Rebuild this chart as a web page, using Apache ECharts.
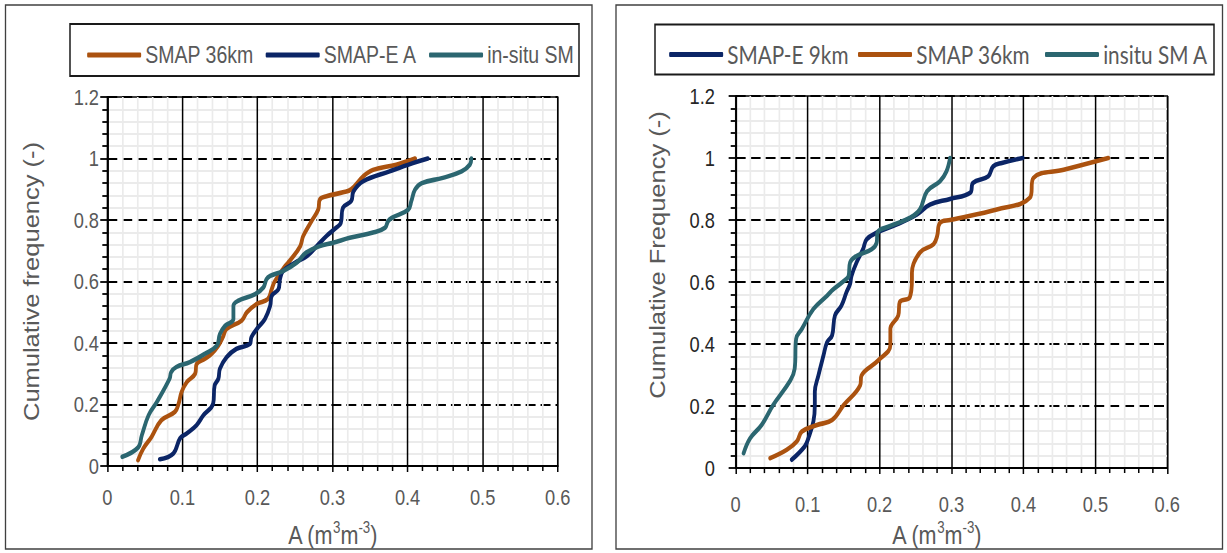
<!DOCTYPE html>
<html>
<head>
<meta charset="utf-8">
<script src="https://cdn.jsdelivr.net/npm/echarts@6.0.0/dist/echarts.min.js"></script>
<style>
  html, body { margin: 0; padding: 0; background: #fff; overflow: hidden; }
  #chart { height: 553px; transform-origin: 0 0; }
</style>
</head>
<body>
<div id="chart"></div>
<script>
// Tick labels
const xTickLabels = ['0', '0.1', '0.2', '0.3', '0.4', '0.5', '0.6'];
const yTickLabels = ['0', '0.2', '0.4', '0.6', '0.8', '1', '1.2'];

// Left panel: [A (m3/m3), cumulative frequency]
const leftSmap36 = [
  [0.041, 0.019], [0.048, 0.057], [0.059, 0.095], [0.072, 0.149], [0.090, 0.176],
  [0.095, 0.203], [0.099, 0.241], [0.106, 0.273], [0.117, 0.300], [0.119, 0.332],
  [0.130, 0.349], [0.139, 0.365], [0.148, 0.392], [0.154, 0.419], [0.159, 0.446],
  [0.179, 0.473], [0.186, 0.500], [0.199, 0.527], [0.214, 0.543], [0.219, 0.575],
  [0.223, 0.600], [0.237, 0.650], [0.243, 0.667], [0.257, 0.715], [0.261, 0.748],
  [0.272, 0.796], [0.281, 0.834], [0.283, 0.866], [0.292, 0.877], [0.314, 0.890],
  [0.325, 0.900], [0.341, 0.942], [0.354, 0.963], [0.385, 0.980], [0.410, 1.000]
];
const leftSmapE = [
  [0.070, 0.022], [0.088, 0.041], [0.097, 0.090], [0.106, 0.106], [0.119, 0.133],
  [0.128, 0.165], [0.141, 0.203], [0.143, 0.262], [0.148, 0.284], [0.150, 0.316],
  [0.159, 0.354], [0.172, 0.381], [0.190, 0.397], [0.192, 0.419], [0.201, 0.451],
  [0.210, 0.478], [0.217, 0.521], [0.219, 0.553], [0.228, 0.575], [0.230, 0.607],
  [0.234, 0.634], [0.250, 0.661], [0.266, 0.683], [0.279, 0.715], [0.292, 0.748],
  [0.305, 0.775], [0.311, 0.790], [0.314, 0.840], [0.325, 0.862], [0.328, 0.893],
  [0.341, 0.926], [0.376, 0.958], [0.407, 0.985], [0.427, 1.000]
];
const leftInsitu = [
  [0.020, 0.030], [0.041, 0.060], [0.046, 0.100], [0.055, 0.165], [0.066, 0.208],
  [0.083, 0.284], [0.085, 0.305], [0.092, 0.322], [0.110, 0.338], [0.130, 0.365],
  [0.146, 0.392], [0.150, 0.429], [0.157, 0.456], [0.168, 0.478], [0.168, 0.521],
  [0.174, 0.537], [0.197, 0.559], [0.208, 0.581], [0.212, 0.607], [0.217, 0.618],
  [0.234, 0.634], [0.252, 0.661], [0.265, 0.694], [0.283, 0.715], [0.301, 0.726],
  [0.323, 0.742], [0.354, 0.759], [0.370, 0.775], [0.374, 0.796], [0.379, 0.807],
  [0.401, 0.834], [0.405, 0.861], [0.410, 0.899], [0.419, 0.920], [0.447, 0.937],
  [0.472, 0.958], [0.483, 0.980], [0.485, 1.000]
];

// Right panel
const rightSmapE9 = [
  [0.078, 0.027], [0.096, 0.070], [0.101, 0.096], [0.108, 0.150], [0.110, 0.203],
  [0.110, 0.246], [0.115, 0.299], [0.122, 0.363], [0.127, 0.406], [0.134, 0.428],
  [0.138, 0.492], [0.147, 0.524], [0.154, 0.567], [0.159, 0.594], [0.161, 0.620],
  [0.168, 0.663], [0.177, 0.706], [0.182, 0.738], [0.196, 0.759], [0.224, 0.786],
  [0.252, 0.818], [0.270, 0.850], [0.298, 0.868], [0.326, 0.888], [0.330, 0.920],
  [0.351, 0.941], [0.358, 0.973], [0.370, 0.984], [0.399, 1.000]
];
const rightSmap36 = [
  [0.048, 0.032], [0.071, 0.059], [0.085, 0.086], [0.092, 0.118], [0.113, 0.139],
  [0.134, 0.155], [0.150, 0.203], [0.173, 0.267], [0.175, 0.299], [0.198, 0.347],
  [0.215, 0.396], [0.215, 0.449], [0.226, 0.492], [0.228, 0.535], [0.242, 0.551],
  [0.245, 0.610], [0.245, 0.631], [0.256, 0.695], [0.275, 0.722], [0.280, 0.748],
  [0.284, 0.791], [0.298, 0.800], [0.363, 0.834], [0.409, 0.872], [0.414, 0.936],
  [0.456, 0.962], [0.518, 1.000]
];
const rightInsitu = [
  [0.011, 0.048], [0.020, 0.096], [0.036, 0.139], [0.052, 0.203], [0.076, 0.283],
  [0.082, 0.321], [0.084, 0.417], [0.092, 0.449], [0.108, 0.513], [0.127, 0.556],
  [0.136, 0.577], [0.154, 0.610], [0.157, 0.620], [0.159, 0.663], [0.168, 0.684],
  [0.189, 0.706], [0.196, 0.727], [0.197, 0.759], [0.215, 0.781], [0.242, 0.807],
  [0.256, 0.834], [0.266, 0.893], [0.284, 0.925], [0.293, 0.957], [0.298, 1.000]
];

const ORANGE = '#AB520F';
const NAVY = '#0B2566';
const TEAL = '#2B6670';
const SANS = "'Liberation Sans', Arial, sans-serif";
const HUMANIST = "Lato, 'Open Sans', sans-serif";

// The figure is laid out in a horizontally condensed frame: every x position
// below is given in page pixels and converted with px().
const SX = 0.83;
const PAGE_W = 1227;
function px(x) { return x / SX; }

const el = document.getElementById('chart');
el.style.width = px(PAGE_W) + 'px';
el.style.transform = 'scaleX(' + SX + ')';

function tickLabel(list, step) {
  return function (v) {
    const i = Math.round(v / step);
    return list[i] !== undefined ? list[i] : '';
  };
}

function xAxisFor(gridIndex, labelMargin, nameGap, namePadRight) {
  return {
    type: 'value', gridIndex: gridIndex, min: 0, max: 0.6, interval: 0.1,
    axisLine: { show: true, onZero: false, lineStyle: { color: '#000', width: 2 } },
    axisTick: { show: true, inside: false, length: 6, lineStyle: { color: '#000', width: 1.8 } },
    minorTick: { show: true, splitNumber: 5, length: 5, lineStyle: { color: '#000', width: 1.8 } },
    splitLine: { show: true, lineStyle: { color: '#000', width: 1.8 } },
    minorSplitLine: { show: true, lineStyle: { color: '#EBEBEB', width: 2 } },
    axisLabel: { color: '#595959', fontSize: 22, fontFamily: SANS, margin: labelMargin,
      formatter: tickLabel(xTickLabels, 0.1) },
    name: '{a|A (m}{s|3}{a|m}{s|-3}{a|)}',
    nameLocation: 'middle', nameGap: nameGap,
    nameTextStyle: {
      padding: [0, namePadRight, 0, 0],
      rich: {
        a: { fontSize: 26, fontFamily: SANS, color: '#595959', lineHeight: 30 },
        s: { fontSize: 16, fontFamily: SANS, color: '#595959', lineHeight: 20, verticalAlign: 'top' }
      }
    }
  };
}

function yAxisFor(gridIndex, title, labelColor, labelMargin, nameGap, nameShiftUp) {
  return {
    type: 'value', gridIndex: gridIndex, min: 0, max: 1.2, interval: 0.2,
    axisLine: { show: true, onZero: false, lineStyle: { color: '#000', width: 2.2 } },
    axisTick: { show: true, inside: false, length: 8.5, lineStyle: { color: '#000', width: 1.8 } },
    minorTick: { show: true, splitNumber: 5, length: 6, lineStyle: { color: '#000', width: 1.8 } },
    splitLine: { show: true, lineStyle: { color: '#000', width: 1.8, type: [12, 6] } },
    minorSplitLine: { show: true, lineStyle: { color: '#EBEBEB', width: 2 } },
    axisLabel: { color: labelColor, fontSize: 22, fontFamily: SANS, margin: labelMargin,
      formatter: tickLabel(yTickLabels, 0.2) },
    name: title, nameLocation: 'middle', nameGap: nameGap, nameRotate: 90,
    nameTextStyle: { color: '#595959', fontSize: 25.5, fontFamily: SANS,
      padding: [0, 0, 0, nameShiftUp * 2] }
  };
}

function lineSeries(name, data, color, axisIndex) {
  return {
    type: 'line', name: name, data: data,
    xAxisIndex: axisIndex, yAxisIndex: axisIndex,
    smooth: 0.4, showSymbol: false, symbol: 'none',
    lineStyle: { color: color, width: 4.6, cap: 'round', join: 'round' },
    itemStyle: { color: color },
    emphasis: { disabled: true }
  };
}

const chart = echarts.init(el, null, { renderer: 'svg' });

chart.setOption({
  animation: false,
  backgroundColor: '#fff',
  graphic: [
    { type: 'rect', shape: { x: px(5.5), y: 5, width: px(586.5), height: 544 },
      style: { fill: 'none', stroke: '#404040', lineWidth: 1.6 }, z: -10 },
    { type: 'rect', shape: { x: px(616), y: 5, width: px(606.5), height: 544 },
      style: { fill: 'none', stroke: '#404040', lineWidth: 1.6 }, z: -10 },
    { type: 'rect', shape: { x: px(70), y: 24, width: px(509), height: 52 },
      style: { fill: 'none', stroke: '#1a1a1a', lineWidth: 1.8 }, z: 10 },
    { type: 'rect', shape: { x: px(655), y: 24.5, width: px(559), height: 50 },
      style: { fill: 'none', stroke: '#1a1a1a', lineWidth: 1.8 }, z: 10 }
  ],
  grid: [
    { left: px(107.3), top: 97, width: px(450.4), height: 370.7, show: true,
      borderColor: '#404040', borderWidth: 1.8, backgroundColor: 'transparent' },
    { left: px(735.7), top: 96, width: px(431.6), height: 374, show: true,
      borderColor: '#404040', borderWidth: 1.8, backgroundColor: 'transparent' }
  ],
  legend: [
    {
      data: ['SMAP 36km', 'SMAP-E A', 'in-situ SM'],
      left: px(83), top: 38, itemWidth: px(54), itemHeight: 5, itemGap: px(12),
      icon: 'roundRect', selectedMode: false,
      textStyle: { color: '#595959', fontSize: 23.5, fontFamily: SANS }
    },
    {
      data: ['SMAP-E 9km', 'SMAP 36km ', 'insitu SM A'],
      left: px(665), top: 37, itemWidth: px(54), itemHeight: 5, itemGap: px(9.5),
      icon: 'roundRect', selectedMode: false,
      textStyle: { color: '#595959', fontSize: 25, fontFamily: HUMANIST }
    }
  ],
  xAxis: [xAxisFor(0, 20, 54, 0), xAxisFor(1, 25, 49, 36)],
  yAxis: [
    yAxisFor(0, 'Cumulative frequency (-)', '#595959', 10, 78, 0),
    yAxisFor(1, 'Cumulative Frequency (-)', '#262626', 25, 81, 27)
  ],
  series: [
    lineSeries('SMAP 36km', leftSmap36, ORANGE, 0),
    lineSeries('SMAP-E A', leftSmapE, NAVY, 0),
    lineSeries('in-situ SM', leftInsitu, TEAL, 0),
    lineSeries('SMAP-E 9km', rightSmapE9, NAVY, 1),
    lineSeries('SMAP 36km ', rightSmap36, ORANGE, 1),
    lineSeries('insitu SM A', rightInsitu, TEAL, 1)
  ]
});
</script>
</body>
</html>
